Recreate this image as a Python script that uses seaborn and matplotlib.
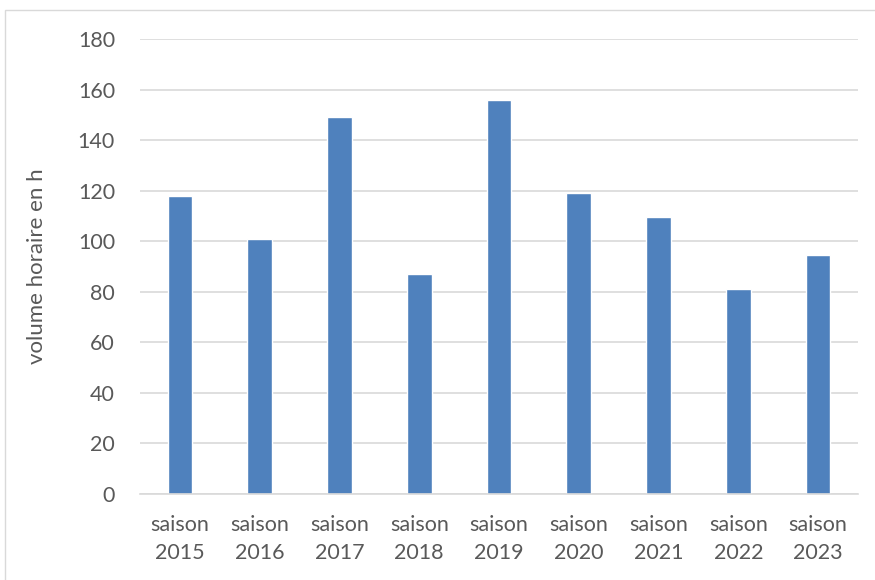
import matplotlib
matplotlib.use("Agg")
import matplotlib.pyplot as plt
import seaborn as sns
import pandas as pd
from matplotlib.patches import Rectangle

saisons = ["saison\n2015", "saison\n2016", "saison\n2017", "saison\n2018", "saison\n2019",
           "saison\n2020", "saison\n2021", "saison\n2022", "saison\n2023"]
volume = [118, 101, 149.2, 87.1, 156, 119, 109.6, 81.1, 94.4]

df = pd.DataFrame({"saison": saisons, "volume": volume})

sns.set_theme(style="white")
plt.rcParams["font.family"] = ["Lato", "DejaVu Sans"]

fig = plt.figure(figsize=(8.75, 5.8), dpi=100)
ax = fig.add_axes([140 / 875, 1 - 494 / 580, 718 / 875, 455 / 580])

sns.barplot(data=df, x="saison", y="volume", color="#4F81BD", saturation=1,
            width=0.31, ax=ax)

ax.set_ylim(0, 180)
ax.set_yticks(range(0, 181, 20))
ax.yaxis.grid(True, color="#D9D9D9", linewidth=1.2)
ax.set_axisbelow(True)
for s in ["top", "right", "left"]:
    ax.spines[s].set_visible(False)
ax.spines["bottom"].set_color("#D9D9D9")
ax.spines["bottom"].set_linewidth(1.2)
ax.tick_params(axis="both", length=0, labelsize=15.5, colors="#595959")
ax.tick_params(axis="y", pad=18)
ax.tick_params(axis="x", pad=15)
ax.set_xlabel("")
ax.set_ylabel("volume horaire en h", fontsize=16, color="#595959", labelpad=22)
for lbl in ax.get_xticklabels():
    lbl.set_linespacing(1.5)

fig.patches.append(Rectangle((5 / 875, -0.01), 1.0, 1 - 10 / 580 + 0.01,
                             transform=fig.transFigure, fill=False,
                             edgecolor="#D9D9D9", linewidth=1))

fig.savefig("out.png", dpi=100)
